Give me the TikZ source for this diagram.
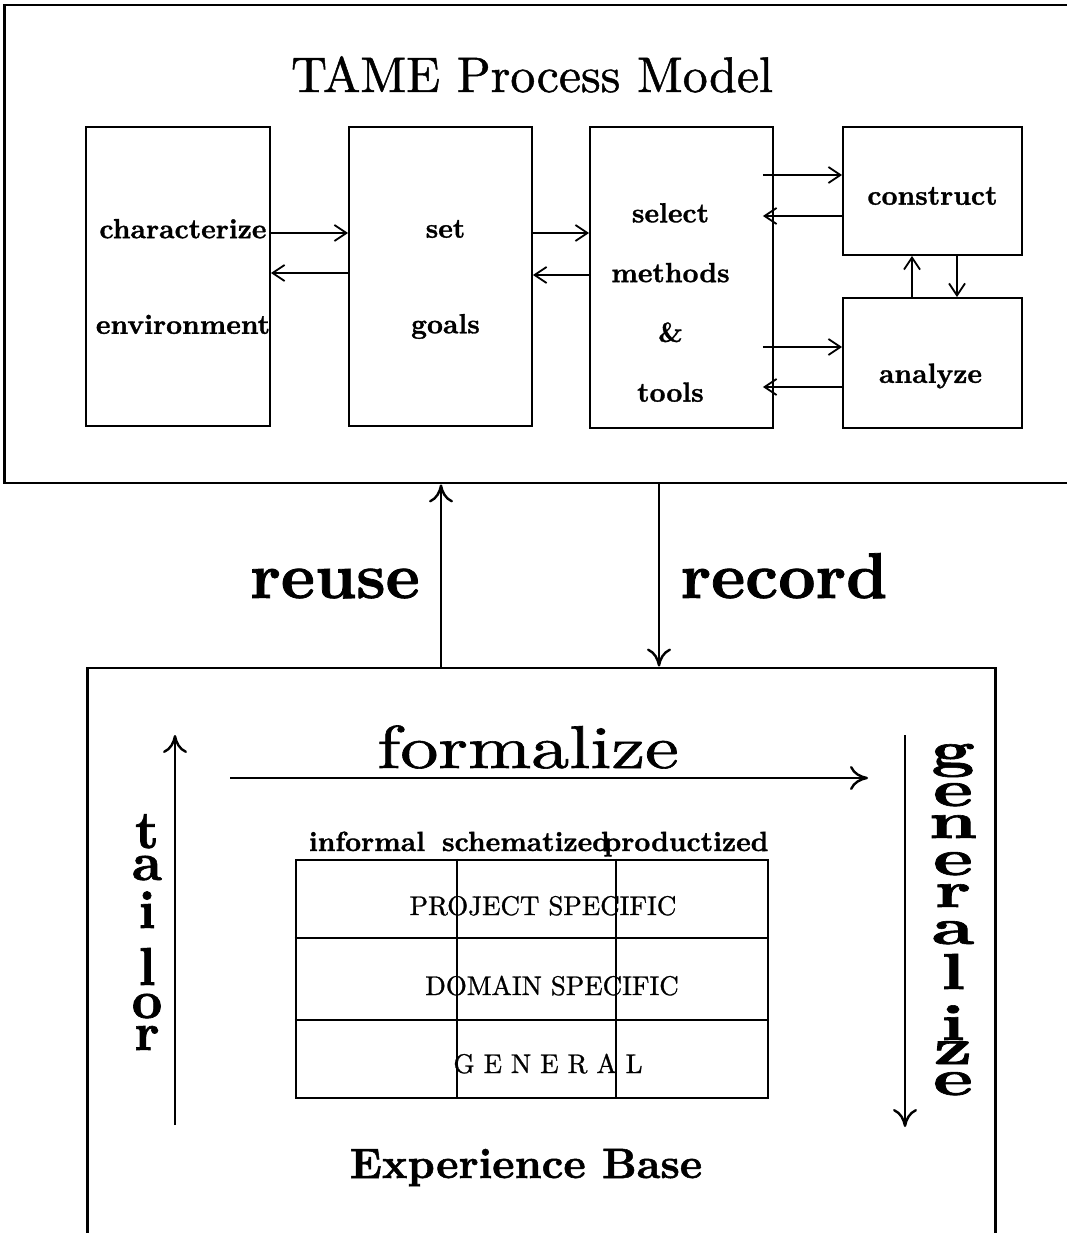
\documentclass[tikz,border=0pt]{standalone}
\usepackage{fontspec}
\usepackage{graphicx}
\newfontfamily\rmheavy{lmroman10-regular.otf}[FakeBold=1]
\newfontfamily\bfheavy{lmroman10-bold.otf}[FakeBold=1.2]
\usetikzlibrary{positioning, arrows.meta}

\begin{document}
\begin{tikzpicture}[x=0.025cm, y=-0.025cm,
    frame/.style={draw, line width=2pt, inner sep=0pt},
    box/.style={draw, line width=1.3pt, inner sep=0pt},
    boxtext/.style={inner sep=0pt, align=center, font=\fontsize{19.7}{23}\bfheavy},
    flow/.style={line width=1.2pt, -{Straight Barb[length=3mm, width=4mm, line width=1.3pt]}},
    big/.style={line width=1.7pt, -{Computer Modern Rightarrow[length=4.5mm, width=6mm, line width=1.7pt]}},
    tbl/.style={draw, line width=1.7pt, inner sep=0pt},
    head/.style={anchor=base, font=\fontsize{19.7}{23}\bfheavy},
    cell/.style={anchor=base, font=\fontsize{19.2}{23}\rmheavy},
    stackl/.style={anchor=base, inner sep=0pt, font=\fontsize{38}{40}\bfheavy},
    stackr/.style={anchor=base, inner sep=0pt, font=\fontsize{36}{40}\bfheavy}]
    \useasboundingbox (0,0) rectangle (1066,1233);

    % process model
    \node[frame, minimum width=26.575cm, minimum height=11.95cm] (tame) at (536.5,244) {};
    \node[anchor=base, font=\fontsize{35.5}{40}\rmheavy] (title) at (532,92) {TAME Process Model};

    \node[box, minimum width=4.6cm, minimum height=7.475cm] (char) at (178,276.5) {};
    \node[box, minimum width=4.575cm, minimum height=7.475cm] (set) at (440.5,276.5) {};
    \node[box, minimum width=4.575cm, minimum height=7.525cm] (select) at (681.5,277.5) {};
    \node[box, minimum width=4.475cm, minimum height=3.2cm] (construct) at (932.5,191) {};
    \node[box, minimum width=4.475cm, minimum height=3.25cm] (analyze) at (932.5,363) {};

    \node[boxtext] (char-txt) at ([shift={(5,0)}]char.center) {characterize\\[45pt]environment};
    \node[boxtext] (set-txt) at ([shift={(5,3)}]set.center) {set\\[45pt]goals};
    \node[boxtext] (select-txt) at ([shift={(-11,25)}]select.center)
        {select\\[19.5pt]methods\\[19.5pt]\&\\[19.5pt]tools};
    \node[boxtext] (construct-txt) at ([shift={(0,5)}]construct.center) {construct};
    \node[boxtext] (analyze-txt) at ([shift={(-2,13)}]analyze.center) {analyze};

    \draw[flow] (char.east |- 0,233) -- (set.west |- 0,233);
    \draw[flow] (set.west |- 0,273) -- (char.east |- 0,273);
    \draw[flow] (set.east |- 0,233) -- (select.west |- 0,233);
    \draw[flow] (select.west |- 0,275) -- (set.east |- 0,275);
    \draw[flow, shorten <=-2.75mm] (select.east |- 0,175) -- (construct.west |- 0,175);
    \draw[flow, shorten >=-2.75mm] (construct.west |- 0,216) -- (select.east |- 0,216);
    \draw[flow, shorten <=-2.75mm] (select.east |- 0,347) -- (analyze.west |- 0,347);
    \draw[flow, shorten >=-2.75mm] (analyze.west |- 0,387) -- (select.east |- 0,387);
    \draw[flow] (analyze.north -| 912,0) -- (construct.south -| 912,0);
    \draw[flow] (construct.south -| 957,0) -- (analyze.north -| 957,0);

    % reuse / record
    \node[frame, minimum width=22.675cm, minimum height=15.8cm] (expbase) at (541.5,984) {};
    \draw[big] (expbase.north -| 441,0) -- (tame.south -| 441,0);
    \draw[big] (tame.south -| 659,0) -- (expbase.north -| 659,0);
    \node[anchor=base, font=\fontsize{46}{50}\bfheavy] (reuse) at (335,598) {reuse};
    \node[anchor=base, font=\fontsize{46}{50}\bfheavy] (record) at (784,598) {record};

    % experience base
    \node[anchor=base, font=\fontsize{43}{48}\rmheavy] (formalize) at (528,768)
        {\scalebox{1.255}[1]{formalize}};
    \coordinate (fz-from) at (230,778);
    \coordinate (fz-to) at (868,778);
    \draw[big] (fz-from) -- (fz-to);

    \coordinate (tl-from) at (175,1125);
    \coordinate (tl-to) at (175,735);
    \draw[big] (tl-from) -- (tl-to);
    \foreach \ch/\yy [count=\k] in {t/848, a/880, i/928, l/985, o/1018, r/1050}
        \node[stackl] (tl-\k) at (147,\yy) {\ch};

    \coordinate (gz-from) at (905,735);
    \coordinate (gz-to) at (905,1127);
    \draw[big] (gz-from) -- (gz-to);
    \foreach \ch/\yy [count=\k] in {g/767, e/806, n/838, e/875, r/907, a/944, l/989, i/1040, z/1064, e/1095}
        \node[stackr] (gz-\k) at (953,\yy) {\scalebox{1.5}[1]{\ch}};

    \node[head] (informal) at (367,851) {informal};
    \node[head] (schematized) at (526,851) {schematized};
    \node[head] (productized) at (686,851) {productized};

    \node[tbl, minimum width=11.8cm, minimum height=5.95cm] (tab) at (532,979) {};
    \draw[tbl] (tab.west |- 0,938) -- (tab.east |- 0,938);
    \draw[tbl] (tab.west |- 0,1020) -- (tab.east |- 0,1020);
    \draw[tbl] (tab.north -| 457,0) -- (tab.south -| 457,0);
    \draw[tbl] (tab.north -| 616,0) -- (tab.south -| 616,0);
    \node[cell] (project) at (543,915) {PROJECT SPECIFIC};
    \node[cell] (domain) at (552,995) {DOMAIN SPECIFIC};
    \node[cell] (general) at (548,1073) {G E N E R A L};

    \node[anchor=base, font=\fontsize{30.2}{36}\bfheavy] (ebase) at (526,1178) {Experience Base};
\end{tikzpicture}
\end{document}
